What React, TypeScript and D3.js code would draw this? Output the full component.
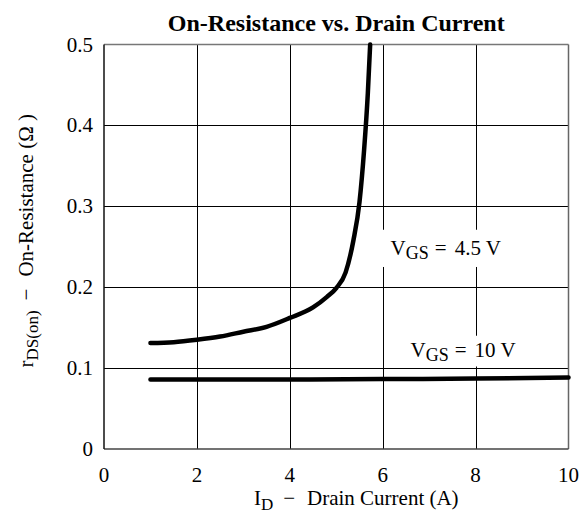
import React, { useEffect, useRef } from 'react';
import * as d3 from 'd3';

// V_GS = 4.5 V curve
const idLow = [1, 1.5, 2, 2.5, 3, 3.5, 4, 4.5, 4.8, 5, 5.2, 5.37, 5.5, 5.6, 5.68, 5.73];
const rLow = [0.131, 0.132, 0.135, 0.139, 0.145, 0.151, 0.162, 0.175, 0.188, 0.199, 0.218, 0.258, 0.305, 0.37, 0.44, 0.5];

// V_GS = 10 V curve
const idHigh = [1, 2, 4, 6, 8, 10];
const rHigh = [0.086, 0.086, 0.086, 0.0865, 0.087, 0.0885];

const xTicks = [0, 2, 4, 6, 8, 10];
const yTicks = [0, 0.1, 0.2, 0.3, 0.4, 0.5];

const W = 580, H = 532;
const FONT = '"Liberation Serif", "Times New Roman", serif';

export default function App() {
  const ref = useRef<SVGSVGElement>(null);

  useEffect(() => {
    const svg = d3.select(ref.current);
    svg.selectAll('*').remove();

    const margin = { top: 44.5, right: 11.5, bottom: 83, left: 104 };
    const x = d3.scaleLinear().domain([0, 10]).range([margin.left, W - margin.right]);
    const y = d3.scaleLinear().domain([0, 0.5]).range([H - margin.bottom, margin.top]);

    svg.append('rect').attr('width', W).attr('height', H).attr('fill', '#fff');

    // grid
    const grid = svg.append('g').attr('stroke', '#000').attr('stroke-width', 1);
    grid.selectAll('.vx')
      .data(xTicks.slice(1, -1))
      .join('line')
      .attr('x1', d => Math.round(x(d)) + 0.5)
      .attr('x2', d => Math.round(x(d)) + 0.5)
      .attr('y1', y(0.5))
      .attr('y2', y(0));
    grid.selectAll('.hy')
      .data(yTicks.slice(1, -1))
      .join('line')
      .attr('y1', d => Math.round(y(d)) + 0.5)
      .attr('y2', d => Math.round(y(d)) + 0.5)
      .attr('x1', x(0))
      .attr('x2', x(10));

    // frame
    svg.append('line').attr('x1', x(0)).attr('x2', x(10)).attr('y1', y(0.5)).attr('y2', y(0.5))
      .attr('stroke', '#777').attr('stroke-width', 1.5);
    svg.append('line').attr('x1', x(10)).attr('x2', x(10)).attr('y1', y(0.5)).attr('y2', y(0))
      .attr('stroke', '#666').attr('stroke-width', 1.5);
    svg.append('line').attr('x1', x(0)).attr('x2', x(10)).attr('y1', y(0)).attr('y2', y(0))
      .attr('stroke', '#444').attr('stroke-width', 1.5);
    svg.append('line').attr('x1', x(0)).attr('x2', x(0)).attr('y1', y(0.5)).attr('y2', y(0))
      .attr('stroke', '#111').attr('stroke-width', 1.5);

    // annotation boxes (white, interrupting grid)
    const ann = [
      { label: '4.5 V', xv: 6.17, yv: 0.24, bx: [5.85, 8.9], by: [0.225, 0.271] },
      { label: '10 V', xv: 6.6, yv: 0.114, bx: [6.3, 9.2], by: [0.102, 0.14] },
    ];
    ann.forEach(a => {
      svg.append('rect')
        .attr('x', x(a.bx[0])).attr('width', x(a.bx[1]) - x(a.bx[0]))
        .attr('y', y(a.by[1])).attr('height', y(a.by[0]) - y(a.by[1]))
        .attr('fill', '#fff');
    });

    // curves
    const line = d3.line<[number, number]>().x(d => x(d[0])).y(d => y(d[1])).curve(d3.curveMonotoneX);
    svg.append('path')
      .datum(idLow.map((v, i) => [v, rLow[i]] as [number, number]))
      .attr('d', line)
      .attr('fill', 'none').attr('stroke', '#000').attr('stroke-width', 4.5)
      .attr('stroke-linecap', 'round').attr('stroke-linejoin', 'round');
    svg.append('path')
      .datum(idHigh.map((v, i) => [v, rHigh[i]] as [number, number]))
      .attr('d', line)
      .attr('fill', 'none').attr('stroke', '#000').attr('stroke-width', 4.5)
      .attr('stroke-linecap', 'round');

    // annotation text
    ann.forEach(a => {
      const t = svg.append('text')
        .attr('x', x(a.xv)).attr('y', y(a.yv))
        .attr('font-family', FONT).attr('font-size', 21).attr('fill', '#000');
      t.append('tspan').text('V');
      t.append('tspan').attr('font-size', 18).attr('dy', 4).text('GS');
      t.append('tspan').attr('dy', -4).attr('dx', 6).text('=');
      t.append('tspan').attr('dx', 8).text(a.label);
    });

    // tick labels
    svg.append('g').selectAll('text')
      .data(xTicks)
      .join('text')
      .attr('x', d => x(d))
      .attr('y', y(0) + 33)
      .attr('text-anchor', 'middle')
      .attr('font-family', FONT).attr('font-size', 21)
      .text(d => String(d));
    svg.append('g').selectAll('text')
      .data(yTicks)
      .join('text')
      .attr('x', x(0) - 11)
      .attr('y', d => y(d) + 7)
      .attr('text-anchor', 'end')
      .attr('font-family', FONT).attr('font-size', 21)
      .text(d => (d === 0 ? '0' : d3.format('.1f')(d)));

    // title
    svg.append('text')
      .attr('x', (x(0) + x(10)) / 2).attr('y', 31)
      .attr('text-anchor', 'middle')
      .attr('font-family', FONT).attr('font-size', 24).attr('font-weight', 'bold')
      .text('On-Resistance vs. Drain Current');

    // x label
    const xl = svg.append('text')
      .attr('x', (x(0) + x(10)) / 2 + 20).attr('y', 505)
      .attr('text-anchor', 'middle')
      .attr('font-family', FONT).attr('font-size', 21);
    xl.append('tspan').text('I');
    xl.append('tspan').attr('font-size', 17).attr('dy', 5).text('D');
    xl.append('tspan').attr('dy', -5).attr('dx', 10).text('\u2212');
    xl.append('tspan').attr('dx', 12).text('Drain Current (A)');

    // y label
    const yl = svg.append('text')
      .attr('transform', `translate(33,${(y(0) + y(0.5)) / 2 - 6}) rotate(-90)`)
      .attr('text-anchor', 'middle')
      .attr('font-family', FONT).attr('font-size', 21);
    yl.append('tspan').text('r');
    yl.append('tspan').attr('font-size', 17).attr('dy', 5).text('DS(on)');
    yl.append('tspan').attr('dy', -5).attr('dx', 10).text('\u2212');
    yl.append('tspan').attr('dx', 12).text('On-Resistance (\u03A9 )');
  }, []);

  return (
    <svg ref={ref} width={W} height={H}
      style={{ position: 'absolute', left: 0, top: 0, display: 'block' }} />
  );
}
